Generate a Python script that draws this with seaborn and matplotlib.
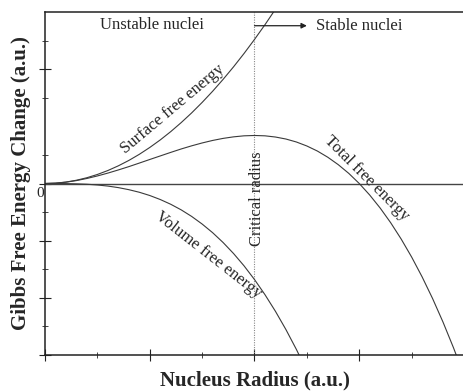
import matplotlib
matplotlib.use("Agg")
import matplotlib.pyplot as plt
import seaborn as sns
import pandas as pd

# Nucleus radius (a.u.)
radius = [0.0, 0.1, 0.2, 0.3, 0.4, 0.5, 0.6, 0.7, 0.8, 0.9, 1.0,
          1.1, 1.2, 1.3, 1.4, 1.5, 1.6, 1.7, 1.8, 1.9, 2.0,
          2.1, 2.2, 2.3, 2.4, 2.5, 2.6, 2.7, 2.8, 2.9, 3.0,
          3.1, 3.2, 3.3, 3.4, 3.5, 3.6, 3.7, 3.8, 3.9, 4.0]

# Surface free energy term (positive, grows with r^2)
surface_energy = [0.0, 0.006, 0.025, 0.057, 0.101, 0.158, 0.227, 0.309, 0.403, 0.510, 0.630,
                  0.762, 0.907, 1.065, 1.235, 1.418, 1.613, 1.821, 2.041, 2.274, 2.520,
                  2.778, 3.049, 3.333]

# Volume free energy term (negative, grows with r^3)
volume_energy = [0.0, -0.0002, -0.002, -0.006, -0.013, -0.026, -0.045, -0.072, -0.108, -0.153, -0.210,
                 -0.280, -0.363, -0.461, -0.576, -0.709, -0.860, -1.032, -1.225, -1.440, -1.680,
                 -1.945, -2.236, -2.555, -2.903, -3.281]

# Total free energy change
total_energy = [0.0, 0.006, 0.023, 0.051, 0.088, 0.132, 0.182, 0.237, 0.295, 0.357, 0.420,
                0.482, 0.544, 0.604, 0.659, 0.709, 0.753, 0.789, 0.816, 0.834, 0.840,
                0.834, 0.813, 0.778, 0.726, 0.656, 0.568, 0.459, 0.329, 0.177, 0.0,
                -0.202, -0.430, -0.686, -0.971, -1.286, -1.633, -2.012, -2.426, -2.875, -3.360]

critical_radius = 2.0

sns.set_style("ticks")
plt.rcParams["font.family"] = ["Liberation Serif", "DejaVu Serif"]

fig = plt.figure(figsize=(4.63, 3.92), dpi=100)
ax = fig.add_axes([45 / 463, 37 / 392, 419 / 463, 343 / 392])

curve_color = "#3a3a3a"
df_s = pd.DataFrame({"r": radius[:len(surface_energy)], "g": surface_energy})
df_v = pd.DataFrame({"r": radius[:len(volume_energy)], "g": volume_energy})
df_t = pd.DataFrame({"r": radius, "g": total_energy})
for df in (df_s, df_v, df_t):
    sns.lineplot(data=df, x="r", y="g", ax=ax, color=curve_color, lw=0.8)

ax.axhline(0, color="#444444", lw=1.0, zorder=1)
ax.axvline(critical_radius, color="#888888", lw=0.8, ls=(0, (1, 1.2)), zorder=1)

ax.set_xlim(0, 4)
ax.set_ylim(-3, 3)
ax.set_xticks([0, 1, 2, 3, 4])
ax.set_xticks([0.5, 1.5, 2.5, 3.5], minor=True)
ax.set_yticks([-3, -2, -1, 0, 2])
ax.set_yticks([-2.5, -1.5, -0.5, 0.5, 1.5, 2.5], minor=True)
ax.set_xticklabels([])
ax.set_yticklabels([])
ax.tick_params(which="major", direction="inout", length=9, width=0.8, color="#222222")
ax.tick_params(which="minor", direction="inout", length=5, width=0.7, color="#444444")

for side in ("left", "bottom", "top"):
    ax.spines[side].set_linewidth(1.1)
    ax.spines[side].set_color("#222222")
ax.spines["right"].set_visible(False)

ax.set_xlabel("Nucleus Radius (a.u.)", fontsize=15, fontweight="bold", labelpad=3)
ax.set_ylabel("Gibbs Free Energy Change (a.u.)", fontsize=15, fontweight="bold", labelpad=2)

ax.text(-0.05, -0.17, "0", ha="center", va="center", fontsize=11)

ax.text(1.02, 2.78, "Unstable nuclei", ha="center", va="center", fontsize=12)
ax.text(3.0, 2.76, "Stable nuclei", ha="center", va="center", fontsize=12)
ax.annotate("", xy=(2.5, 2.76), xytext=(critical_radius, 2.76),
            arrowprops=dict(arrowstyle="-|>", color="#222222", lw=0.9,
                            mutation_scale=8, shrinkA=0, shrinkB=0))

ax.text(1.22, 1.3, "Surface free energy", ha="center", va="center",
        rotation=40, fontsize=12)
ax.text(1.56, -1.25, "Volume free energy", ha="center", va="center",
        rotation=-38, fontsize=12)
ax.text(3.07, 0.09, "Total free energy", ha="center", va="center",
        rotation=-45, fontsize=12)
ax.text(2.02, -0.27, "Critical radius", ha="center", va="center",
        rotation=90, fontsize=12)

fig.savefig("out.png", dpi=100)
